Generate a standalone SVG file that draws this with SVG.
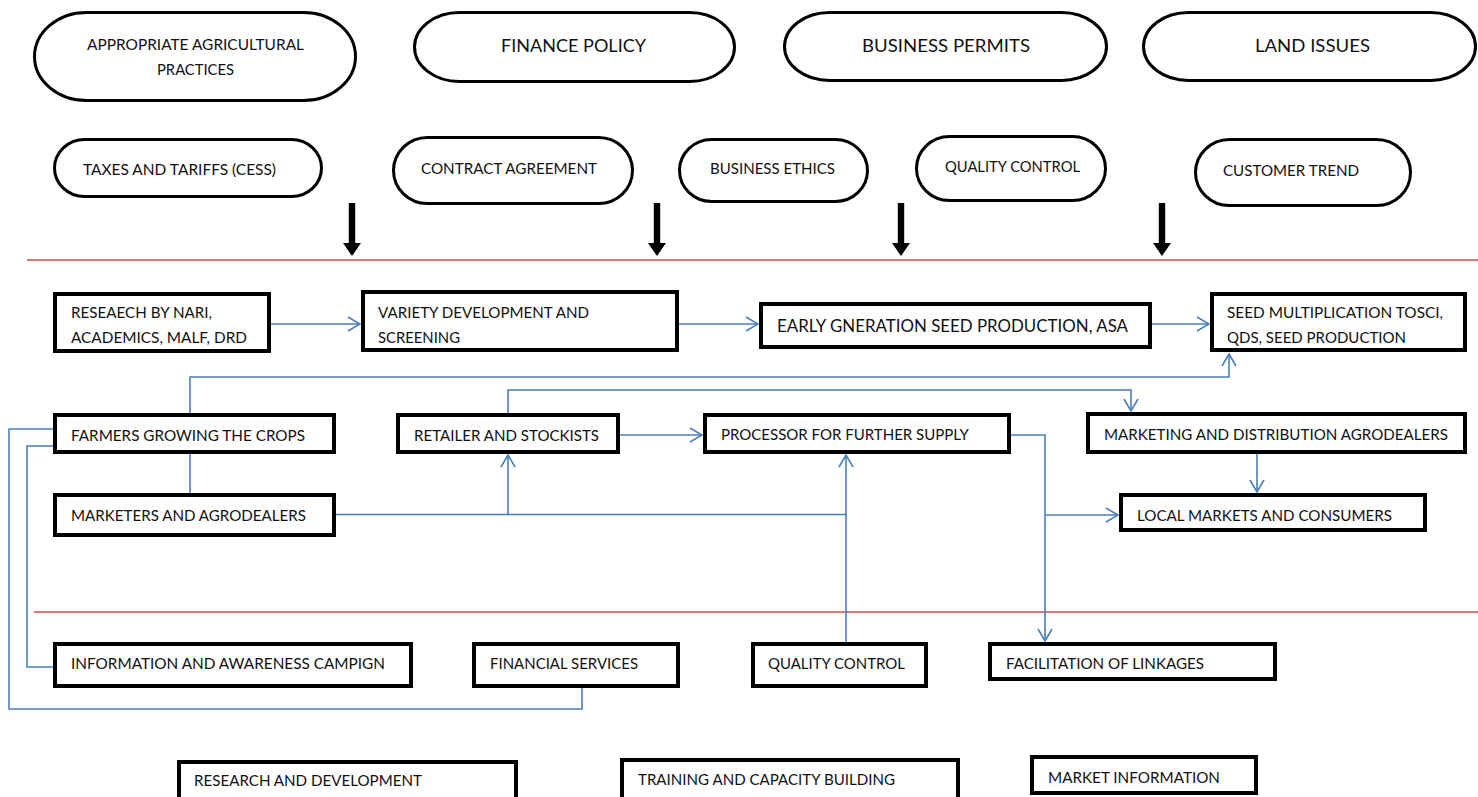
<svg xmlns="http://www.w3.org/2000/svg" xmlns:xlink="http://www.w3.org/1999/xlink" width="1478" height="797" viewBox="0 0 1478 797">
  <style>
    .bg { fill: #ffffff; }
    .pill { fill: #ffffff; stroke: #000000; stroke-width: 3; }
    .box { fill: #ffffff; stroke: #000000; stroke-width: 4; }
    .t { font-family: Lato, "Liberation Sans", sans-serif; font-size: 14.8px; fill: #111111; }
    .big { font-size: 18px; }
    .sep { stroke: #c0504d; stroke-width: 1.5; fill: none; }
    .link { stroke: #4a7ebb; stroke-width: 1.6; fill: none; }
    .arr { marker-end: url(#open); }
  </style>
  <defs>
    <marker id="open" viewBox="0 0 14 16" refX="13" refY="8" markerWidth="14" markerHeight="16" markerUnits="userSpaceOnUse" orient="auto">
      <path d="M1,1 L13,8 L1,15" fill="none" stroke="#4a7ebb" stroke-width="1.6"/>
    </marker>
    <!-- thick black downward arrow, tip at origin -->
    <path id="down" d="M-3.2,-53 H3.2 V-13 H9 L0,0 L-9,-13 H-3.2 Z" fill="#000000"/>
  </defs>

  <rect class="bg" x="0" y="0" width="1478" height="797"/>

  <!-- policy / enabling environment -->
  <g id="n-agri-practices">
    <rect class="pill" x="34.5" y="12.5" width="321" height="88" rx="52" ry="44"/>
    <text class="t" x="87" y="50" textLength="217" lengthAdjust="spacingAndGlyphs">APPROPRIATE AGRICULTURAL</text>
    <text class="t" x="157" y="75" textLength="77" lengthAdjust="spacingAndGlyphs">PRACTICES</text>
  </g>
  <g id="n-finance-policy">
    <rect class="pill" x="414.5" y="12.5" width="320" height="69" rx="45" ry="34.5"/>
    <text class="t big" x="501" y="52" textLength="145" lengthAdjust="spacingAndGlyphs">FINANCE POLICY</text>
  </g>
  <g id="n-business-permits">
    <rect class="pill" x="784.5" y="12.5" width="322" height="68" rx="45" ry="34"/>
    <text class="t big" x="862" y="52" textLength="168" lengthAdjust="spacingAndGlyphs">BUSINESS PERMITS</text>
  </g>
  <g id="n-land-issues">
    <rect class="pill" x="1143.5" y="12.5" width="332" height="68" rx="45" ry="34"/>
    <text class="t big" x="1255" y="52" textLength="115" lengthAdjust="spacingAndGlyphs">LAND ISSUES</text>
  </g>
  <g id="n-taxes">
    <rect class="pill" x="54.5" y="139.5" width="267" height="57" rx="30" ry="28.5"/>
    <text class="t" x="83" y="175" textLength="193" lengthAdjust="spacingAndGlyphs">TAXES AND TARIFFS (CESS)</text>
  </g>
  <g id="n-contract">
    <rect class="pill" x="393.5" y="137.5" width="239" height="66" rx="34" ry="33"/>
    <text class="t" x="421" y="174" textLength="176" lengthAdjust="spacingAndGlyphs">CONTRACT AGREEMENT</text>
  </g>
  <g id="n-ethics">
    <rect class="pill" x="679.5" y="139.5" width="188" height="62" rx="32" ry="31"/>
    <text class="t" x="710" y="174" textLength="125" lengthAdjust="spacingAndGlyphs">BUSINESS ETHICS</text>
  </g>
  <g id="n-quality-top">
    <rect class="pill" x="916.5" y="136.5" width="189" height="64" rx="33" ry="32"/>
    <text class="t" x="945" y="172" textLength="135" lengthAdjust="spacingAndGlyphs">QUALITY CONTROL</text>
  </g>
  <g id="n-customer">
    <rect class="pill" x="1195.5" y="139.5" width="215" height="66" rx="34" ry="33"/>
    <text class="t" x="1223" y="176" textLength="136" lengthAdjust="spacingAndGlyphs">CUSTOMER TREND</text>
  </g>

  <!-- influence arrows onto the chain -->
  <g id="influence">
    <use xlink:href="#down" x="352" y="256"/>
    <use xlink:href="#down" x="657" y="256"/>
    <use xlink:href="#down" x="901" y="256"/>
    <use xlink:href="#down" x="1162" y="256"/>
  </g>

  <!-- band separators -->
  <g id="separators">
    <path class="sep" d="M27,260 H1478"/>
    <path class="sep" d="M34,612 H1478"/>
  </g>

  <!-- connectors -->
  <g id="connectors">
    <path class="link arr" d="M271,324 H360"/>
    <path class="link arr" d="M679,324 H758"/>
    <path class="link arr" d="M1152,324 H1209"/>
    <path class="link arr" d="M190,413 V377 H1229 V354"/>
    <path class="link arr" d="M508,413 V390 H1131 V411"/>
    <path class="link" d="M190,454 V493"/>
    <path class="link" d="M336,514.5 H846"/>
    <path class="link arr" d="M508,514.5 V455"/>
    <path class="link arr" d="M846,642 V455"/>
    <path class="link arr" d="M620,435 H702"/>
    <path class="link arr" d="M1011,435 H1045 V641"/>
    <path class="link arr" d="M1045,515 H1118"/>
    <path class="link arr" d="M1257,454 V492"/>
    <path class="link" d="M53,429 H9 V709 H582 V688"/>
    <path class="link" d="M53,446 H27 V667 H54"/>
  </g>

  <!-- value chain -->
  <g id="n-research-nari">
    <rect class="box" x="55" y="294" width="214" height="57"/>
    <text class="t" x="71" y="318" textLength="141" lengthAdjust="spacingAndGlyphs">RESEAECH BY NARI,</text>
    <text class="t" x="71" y="343" textLength="176" lengthAdjust="spacingAndGlyphs">ACADEMICS, MALF, DRD</text>
  </g>
  <g id="n-variety">
    <rect class="box" x="363" y="292" width="314" height="58"/>
    <text class="t" x="378" y="318" textLength="211" lengthAdjust="spacingAndGlyphs">VARIETY DEVELOPMENT AND</text>
    <text class="t" x="378" y="343" textLength="82" lengthAdjust="spacingAndGlyphs">SCREENING</text>
  </g>
  <g id="n-early-gen">
    <rect class="box" x="761" y="304" width="389" height="43"/>
    <text class="t big" x="777" y="332" textLength="351" lengthAdjust="spacingAndGlyphs">EARLY GNERATION SEED PRODUCTION, ASA</text>
  </g>
  <g id="n-seed-mult">
    <rect class="box" x="1212" y="294" width="253" height="56"/>
    <text class="t" x="1227" y="318" textLength="216" lengthAdjust="spacingAndGlyphs">SEED MULTIPLICATION TOSCI,</text>
    <text class="t" x="1227" y="343" textLength="179" lengthAdjust="spacingAndGlyphs">QDS, SEED PRODUCTION</text>
  </g>
  <g id="n-farmers">
    <rect class="box" x="55" y="415" width="279" height="37"/>
    <text class="t" x="71" y="441" textLength="234" lengthAdjust="spacingAndGlyphs">FARMERS GROWING THE CROPS</text>
  </g>
  <g id="n-marketers">
    <rect class="box" x="55" y="495" width="279" height="40"/>
    <text class="t" x="71" y="521" textLength="235" lengthAdjust="spacingAndGlyphs">MARKETERS AND AGRODEALERS</text>
  </g>
  <g id="n-retailer">
    <rect class="box" x="398" y="415" width="220" height="37"/>
    <text class="t" x="414" y="441" textLength="185" lengthAdjust="spacingAndGlyphs">RETAILER AND STOCKISTS</text>
  </g>
  <g id="n-processor">
    <rect class="box" x="705" y="415" width="304" height="37"/>
    <text class="t" x="721" y="440" textLength="248" lengthAdjust="spacingAndGlyphs">PROCESSOR FOR FURTHER SUPPLY</text>
  </g>
  <g id="n-marketing">
    <rect class="box" x="1088" y="414" width="377" height="38"/>
    <text class="t" x="1104" y="440" textLength="344" lengthAdjust="spacingAndGlyphs">MARKETING AND DISTRIBUTION AGRODEALERS</text>
  </g>
  <g id="n-local-markets">
    <rect class="box" x="1121" y="495" width="304" height="35"/>
    <text class="t" x="1137" y="521" textLength="255" lengthAdjust="spacingAndGlyphs">LOCAL MARKETS AND CONSUMERS</text>
  </g>

  <!-- support services -->
  <g id="n-info">
    <rect class="box" x="55" y="644" width="356" height="42"/>
    <text class="t" x="71" y="669" textLength="314" lengthAdjust="spacingAndGlyphs">INFORMATION AND AWARENESS CAMPIGN</text>
  </g>
  <g id="n-financial">
    <rect class="box" x="474" y="644" width="204" height="42"/>
    <text class="t" x="490" y="669" textLength="148" lengthAdjust="spacingAndGlyphs">FINANCIAL SERVICES</text>
  </g>
  <g id="n-quality-bottom">
    <rect class="box" x="753" y="644" width="173" height="42"/>
    <text class="t" x="768" y="669" textLength="137" lengthAdjust="spacingAndGlyphs">QUALITY CONTROL</text>
  </g>
  <g id="n-facilitation">
    <rect class="box" x="990" y="644" width="285" height="35"/>
    <text class="t" x="1006" y="669" textLength="198" lengthAdjust="spacingAndGlyphs">FACILITATION OF LINKAGES</text>
  </g>
  <g id="n-rnd">
    <rect class="box" x="179" y="762" width="337" height="60"/>
    <text class="t" x="194" y="786" textLength="228" lengthAdjust="spacingAndGlyphs">RESEARCH AND DEVELOPMENT</text>
  </g>
  <g id="n-training">
    <rect class="box" x="622" y="760" width="336" height="60"/>
    <text class="t" x="638" y="785" textLength="257" lengthAdjust="spacingAndGlyphs">TRAINING AND CAPACITY BUILDING</text>
  </g>
  <g id="n-market-info">
    <rect class="box" x="1032" y="757" width="224" height="36"/>
    <text class="t" x="1048" y="783" textLength="172" lengthAdjust="spacingAndGlyphs">MARKET INFORMATION</text>
  </g>
</svg>
